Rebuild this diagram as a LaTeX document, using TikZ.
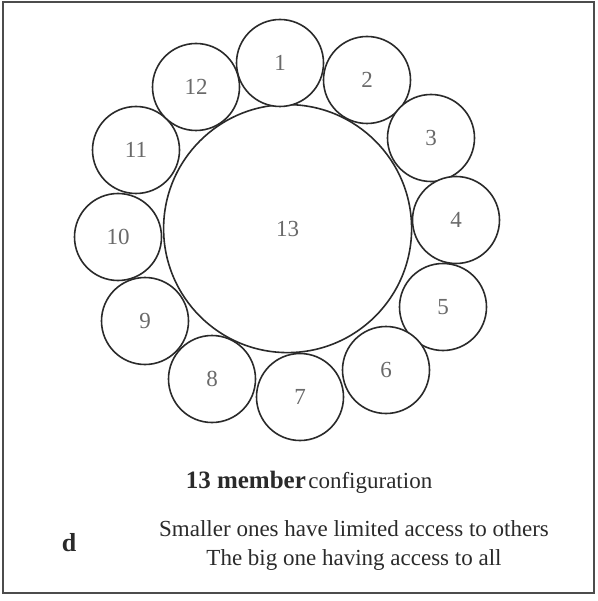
\documentclass[tikz,border=0pt]{standalone}
\usepackage{fontspec}
\setmainfont{Liberation Serif}
\definecolor{inkgray}{HTML}{2A2A2A}
\definecolor{digitgray}{HTML}{6A6A6A}
\tikzset{
  member/.style={circle, draw=inkgray, line width=1.6pt, fill=white, minimum size=87pt, inner sep=0pt,
    text=digitgray, font=\fontsize{23}{23}\selectfont},
  hub/.style={member, minimum size=248pt},
  caption/.style={text=inkgray, inner sep=0pt, align=center}
}

\begin{document}
\begin{tikzpicture}[x=1pt,y=-1pt]
\useasboundingbox (0,0) rectangle (597,601);
\draw[draw=black!70, line width=1.4pt] (3,2) rectangle (594,593);
\node[hub] (m13) at (287.6,228.6) {13};
\node[member] (m1) at (280,63) {1};
\node[member] (m2) at (367,80) {2};
\node[member] (m3) at (431,138) {3};
\node[member] (m4) at (456,220) {4};
\node[member] (m5) at (443,307) {5};
\node[member] (m6) at (386,370) {6};
\node[member] (m7) at (300,397) {7};
\node[member] (m8) at (212,379) {8};
\node[member] (m9) at (145,321) {9};
\node[member] (m10) at (118,237) {10};
\node[member] (m11) at (136,150) {11};
\node[member] (m12) at (196,87) {12};
\node[caption] (title) at (309,482) {{\fontsize{25}{25}\selectfont\bfseries 13 member} {\fontsize{23}{23}\selectfont configuration}};
\node[caption, font=\fontsize{23}{29}\selectfont] (note) at (354,545) {Smaller ones have limited access to others\\The big one having access to all};
\node[caption, font=\fontsize{26}{26}\selectfont\bfseries] (tag) at (69,543) {d};
\end{tikzpicture}
\end{document}
